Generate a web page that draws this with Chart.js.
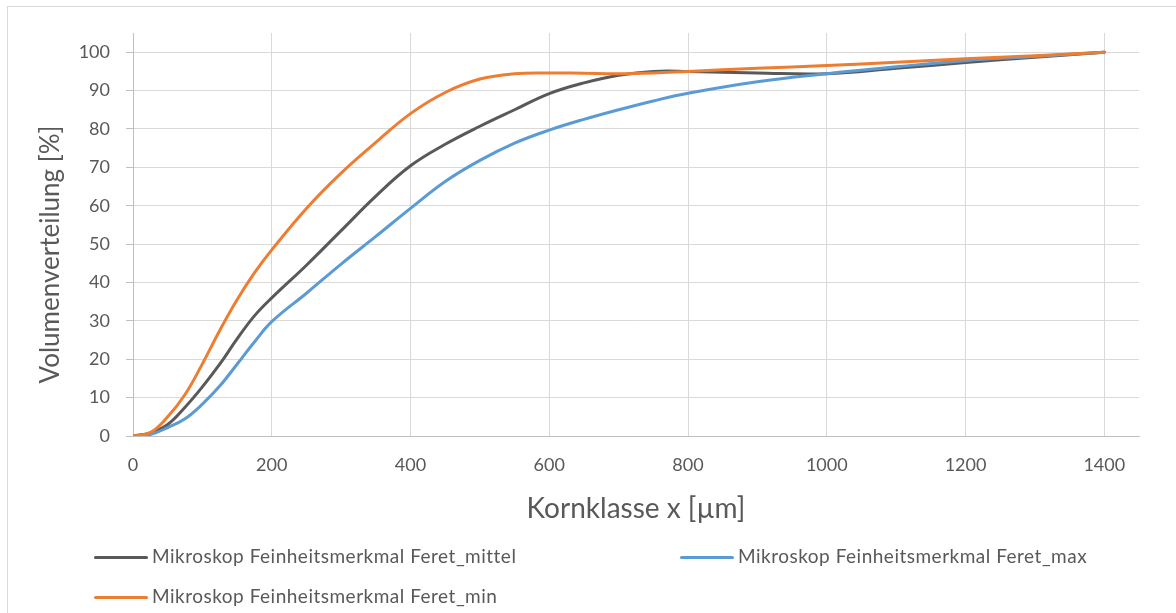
<!DOCTYPE html>
<html><head><meta charset="utf-8">
<script src="https://cdn.jsdelivr.net/npm/chart.js@4.4.0/dist/chart.umd.min.js"></script>
<style>
html,body{margin:0;padding:0;background:#fff;overflow:hidden;width:1176px;height:613px;}
#wrap{position:relative;width:1176px;height:613px;overflow:hidden;}
#frame{position:absolute;left:7px;top:6px;width:1200px;height:700px;border:1px solid #d9d9d9;box-sizing:border-box;pointer-events:none;}
canvas{position:absolute;left:0;top:0;}
.lg{position:absolute;font-family:Lato,sans-serif;font-size:19px;letter-spacing:0.5px;color:#595959;white-space:nowrap;line-height:24px;height:24px;}
.lg i{display:inline-block;width:54px;height:3px;vertical-align:middle;margin-right:4px;border-radius:1.5px;position:relative;top:-1px;}
</style></head>
<body>
<div id="wrap">
<canvas id="c" width="1176" height="613"></canvas>
<div id="frame"></div>
<div id="legend"></div>
</div>
<script>
// Kornklasse x [µm]
const xValues = [0, 25, 50, 75, 100, 125, 150, 175, 200, 250, 300, 350, 400, 450, 500, 550, 600, 650, 700, 750, 800, 900, 1000, 1100, 1200, 1300, 1400];
// Volumenverteilung [%]
const feretMittel = [0, 0.8, 3, 7.5, 12.8, 18.7, 25.3, 31.3, 36, 44.5, 53.5, 62.5, 70.4, 76, 80.7, 85, 89.2, 92, 94, 95, 95, 94.6, 94.4, 95.8, 97.3, 98.7, 100];
const feretMax    = [0, 0.4, 2.2, 4.5, 8.3, 13, 18.7, 24.5, 29.8, 37.2, 44.8, 52, 59.3, 66.3, 71.8, 76.3, 79.7, 82.5, 85, 87.3, 89.3, 92.3, 94.4, 96.2, 97.8, 98.9, 100];
const feretMin    = [0, 0.9, 5, 10.8, 18.8, 27.5, 35.5, 42.5, 48.5, 59.3, 68.5, 76.5, 84, 89.5, 93, 94.4, 94.6, 94.5, 94.4, 94.6, 95, 95.8, 96.5, 97.4, 98.3, 99.1, 100];

const seriesNames = ['Mikroskop Feinheitsmerkmal Feret_mittel', 'Mikroskop Feinheitsmerkmal Feret_max', 'Mikroskop Feinheitsmerkmal Feret_min'];
const seriesColors = ['#595959', '#5b9bd5', '#ed7d31'];
const xTicks = [0, 200, 400, 600, 800, 1000, 1200, 1400];
const yTicks = [0, 10, 20, 30, 40, 50, 60, 70, 80, 90, 100];
const xTitle = 'Kornklasse x [µm]';
const yTitle = 'Volumenverteilung [%]';

const seriesValues = [feretMittel, feretMax, feretMin];
const datasets = seriesValues.map((vals, i) => ({
  label: seriesNames[i],
  data: xValues.map((x, j) => ({x: x, y: vals[j]})),
  borderColor: seriesColors[i],
  backgroundColor: seriesColors[i],
  borderWidth: 3,
  pointRadius: 0,
  fill: false,
  tension: 0.4,
  borderCapStyle: 'round',
  borderJoinStyle: 'round',
  order: 3 - i
}));

const FONT = 'Lato';

// y-axis title drawn like Excel (offset a little below the plot centre)
const yTitlePlugin = {
  id: 'yTitlePlugin',
  afterDraw(chart) {
    const ctx = chart.ctx;
    const area = chart.chartArea;
    ctx.save();
    ctx.translate(51, (area.top + area.bottom) / 2 + 20);
    ctx.rotate(-Math.PI / 2);
    ctx.font = '26px ' + FONT;
    ctx.fillStyle = '#595959';
    ctx.textAlign = 'center';
    ctx.textBaseline = 'middle';
    ctx.fillText(yTitle, 0, 0);
    ctx.restore();
  }
};

new Chart(document.getElementById('c'), {
  type: 'line',
  data: { datasets },
  plugins: [yTitlePlugin],
  options: {
    responsive: false,
    animation: false,
    layout: { padding: { left: 0, top: 33, right: 37, bottom: 87 } },
    plugins: { legend: { display: false }, tooltip: { enabled: false } },
    scales: {
      x: {
        type: 'linear', min: 0, max: 1450,
        afterBuildTicks: s => { s.ticks = xTicks.map(v => ({ value: v })); },
        afterFit: s => { s.height = 90; },
        grid: { color: '#d9d9d9', lineWidth: 1, drawTicks: false },
        border: { color: '#bfbfbf', width: 1 },
        ticks: { color: '#595959', font: { family: FONT, size: 18 }, padding: 18, maxRotation: 0, autoSkip: false,
                 callback: v => String(v) },
        title: { display: true, text: xTitle, color: '#595959', font: { family: FONT, size: 28 }, padding: { top: 0, bottom: 0 } }
      },
      y: {
        min: 0, max: 105,
        afterBuildTicks: s => { s.ticks = yTicks.map(v => ({ value: v })); },
        afterFit: s => { s.width = 133; },
        grid: { color: '#d9d9d9', lineWidth: 1, drawTicks: true, tickLength: 7, tickColor: '#bfbfbf' },
        border: { color: '#bfbfbf', width: 1 },
        ticks: { color: '#595959', font: { family: FONT, size: 18 }, padding: 16, autoSkip: false,
                 callback: v => String(v) },
        title: { display: false }
      }
    }
  }
});

// legend (two columns, Excel-like)
const legendPos = [[94, 544], [680, 544], [94, 584]];
const lg = document.getElementById('legend');
seriesNames.forEach((name, i) => {
  const d = document.createElement('div');
  d.className = 'lg';
  d.style.left = legendPos[i][0] + 'px';
  d.style.top = legendPos[i][1] + 'px';
  const sw = document.createElement('i');
  sw.style.background = seriesColors[i];
  d.appendChild(sw);
  d.appendChild(document.createTextNode(name));
  lg.appendChild(d);
});
</script>
</body></html>
